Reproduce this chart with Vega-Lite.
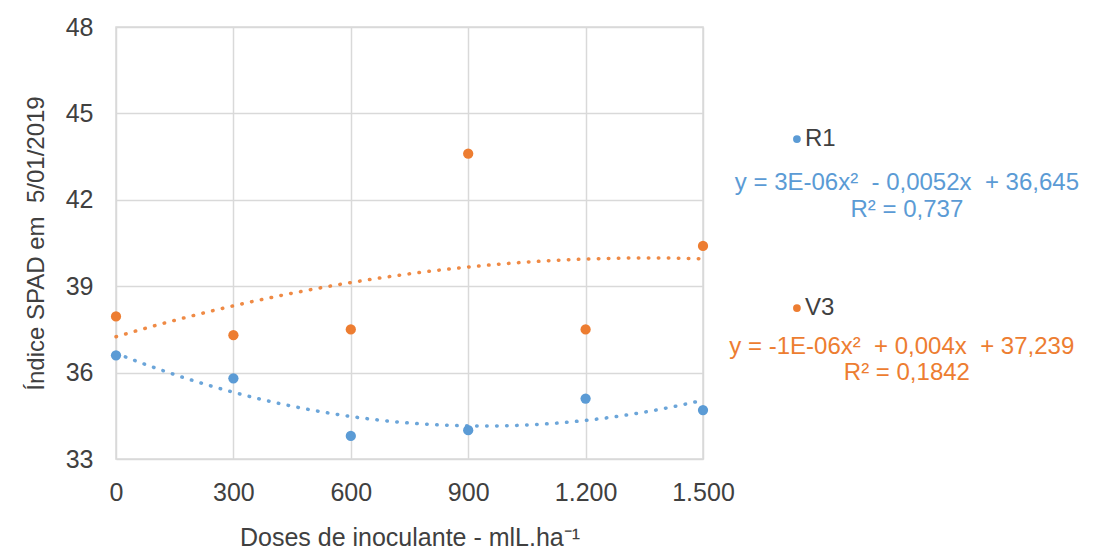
{
  "$schema": "https://vega.github.io/schema/vega-lite/v6.json",
  "width": 587,
  "height": 432,
  "autosize": {"type": "none"},
  "padding": {"left": 116, "top": 27, "right": 393, "bottom": 93},
  "background": "white",
  "config": {
    "font": "Liberation Sans",
    "view": {"stroke": "#d9d9d9", "strokeWidth": 1.5}
  },
  "datasets": {
    "pts": [
      {"dose": 0, "spad": 36.6, "serie": "R1"},
      {"dose": 300, "spad": 35.8, "serie": "R1"},
      {"dose": 600, "spad": 33.8, "serie": "R1"},
      {"dose": 900, "spad": 34.0, "serie": "R1"},
      {"dose": 1200, "spad": 35.1, "serie": "R1"},
      {"dose": 1500, "spad": 34.7, "serie": "R1"},
      {"dose": 0, "spad": 37.95, "serie": "V3"},
      {"dose": 300, "spad": 37.3, "serie": "V3"},
      {"dose": 600, "spad": 37.5, "serie": "V3"},
      {"dose": 900, "spad": 43.6, "serie": "V3"},
      {"dose": 1200, "spad": 37.5, "serie": "V3"},
      {"dose": 1500, "spad": 40.4, "serie": "V3"}
    ],
    "notes": [
      {"serie": "R1", "text": "y = 3E-06x²\u00a0 - 0,0052x\u00a0 + 36,645", "dose": 2021, "spad": 42.58},
      {"serie": "R1", "text": "R² = 0,737", "dose": 2021, "spad": 41.65},
      {"serie": "V3", "text": "y = -1E-06x²\u00a0 + 0,004x\u00a0 + 37,239", "dose": 2008, "spad": 36.89},
      {"serie": "V3", "text": "R² = 0,1842", "dose": 2021, "spad": 35.99}
    ],
    "leg": [
      {"serie": "R1", "text": "R1", "dose": 1740, "spad": 44.11},
      {"serie": "V3", "text": "V3", "dose": 1740, "spad": 38.24}
    ]
  },
  "layer": [
    {
      "data": {"name": "pts"},
      "transform": [
        {"regression": "spad", "on": "dose", "method": "poly", "order": 2, "groupby": ["serie"], "extent": [0, 1500]}
      ],
      "mark": {"type": "line", "strokeWidth": 3.5, "strokeCap": "round", "strokeDash": [0.5, 9.5], "interpolate": "monotone", "opacity": 0.9},
      "encoding": {
        "x": {"field": "dose", "type": "quantitative"},
        "y": {"field": "spad", "type": "quantitative"},
        "color": {"field": "serie", "type": "nominal", "legend": null}
      }
    },
    {
      "data": {"name": "pts"},
      "mark": {"type": "circle", "size": 105, "opacity": 1},
      "encoding": {
        "x": {
          "field": "dose", "type": "quantitative",
          "scale": {"domain": [0, 1500], "nice": false, "zero": false},
          "axis": {
            "values": [0, 300, 600, 900, 1200, 1500],
            "labelExpr": "replace(format(datum.value, ','), ',', '.')",
            "labelFlush": false,
            "title": "Doses de inoculante - mlL.ha⁻¹",
            "titleFont": "Liberation Sans", "titleFontSize": 25, "titleFontWeight": "normal", "titleColor": "#404040",
            "titlePadding": 20,
            "labelFontSize": 25, "labelColor": "#404040", "labelPadding": 21,
            "ticks": false, "tickSize": 0, "domain": false,
            "gridColor": "#d9d9d9", "gridWidth": 1.5
          }
        },
        "y": {
          "field": "spad", "type": "quantitative",
          "scale": {"domain": [33, 48], "nice": false, "zero": false},
          "axis": {
            "values": [33, 36, 39, 42, 45, 48],
            "title": "Índice SPAD em\u00a0 5/01/2019",
            "titleFont": "Liberation Sans", "titleFontSize": 24, "titleFontWeight": "normal", "titleColor": "#404040",
            "titlePadding": 17,
            "labelFontSize": 25, "labelColor": "#404040", "labelPadding": 23,
            "ticks": false, "tickSize": 0, "domain": false,
            "gridColor": "#d9d9d9", "gridWidth": 1.5
          }
        },
        "color": {
          "field": "serie", "type": "nominal",
          "scale": {"domain": ["R1", "V3"], "range": ["#5B9BD5", "#ED7D31"]},
          "legend": null
        }
      }
    },
    {
      "data": {"name": "leg"},
      "mark": {"type": "circle", "size": 60, "opacity": 1},
      "encoding": {
        "x": {"field": "dose", "type": "quantitative"},
        "y": {"field": "spad", "type": "quantitative"},
        "color": {"field": "serie", "type": "nominal", "legend": null}
      }
    },
    {
      "data": {"name": "leg"},
      "mark": {"type": "text", "align": "left", "baseline": "middle", "dx": 8, "fontSize": 24, "color": "#404040"},
      "encoding": {
        "x": {"field": "dose", "type": "quantitative"},
        "y": {"field": "spad", "type": "quantitative"},
        "text": {"field": "text"}
      }
    },
    {
      "data": {"name": "notes"},
      "mark": {"type": "text", "align": "center", "baseline": "middle", "fontSize": 24},
      "encoding": {
        "x": {"field": "dose", "type": "quantitative"},
        "y": {"field": "spad", "type": "quantitative"},
        "text": {"field": "text"},
        "color": {"field": "serie", "type": "nominal", "legend": null}
      }
    }
  ]
}
